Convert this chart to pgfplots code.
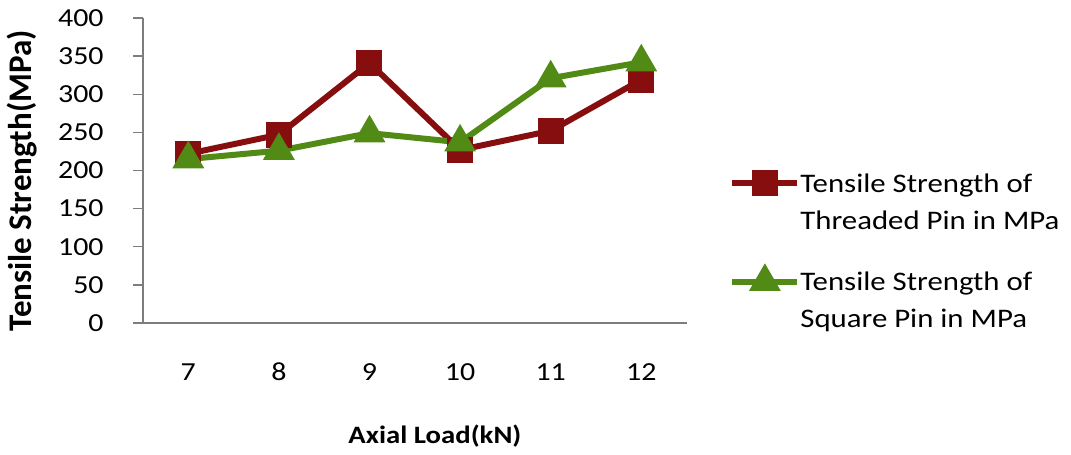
\documentclass[border=0pt]{standalone}
\usepackage{fontspec}
\setmainfont{Carlito}[FakeStretch=1.15]
\newfontfamily\ylabfont{Carlito}
\usepackage{pgfplots}
\pgfplotsset{compat=1.18}

\definecolor{threadred}{RGB}{135,14,14}
\definecolor{squaregreen}{RGB}{82,138,22}
\definecolor{axisgray}{RGB}{125,125,125}

\begin{document}
\begin{tikzpicture}
% overall frame of the figure
\path[use as bounding box] (-71.5pt,-66pt) rectangle (464pt,161.5pt);
\begin{axis}[
  at={(0pt,0pt)}, anchor=south west,
  scale only axis,
  width=271.8pt, height=152.5pt,
  xmin=6.5, xmax=12.5,
  ymin=0, ymax=400,
  xtick={7,8,9,10,11,12},
  ytick={0,50,...,400},
  axis x line*=bottom,
  axis y line*=left,
  axis line style={axisgray, line width=0.7pt, -},
  every tick/.style={axisgray, line width=0.7pt},
  major tick length=5pt,
  xtick style={draw=none},
  ytick align=outside,
  tick label style={font=\fontsize{13pt}{15pt}\selectfont, inner sep=0pt},
  /pgf/number format/assume math mode=true,
  xticklabel style={anchor=base, yshift=-28.5pt},
  yticklabel style={anchor=east, xshift=-14.5pt},
  xlabel={\textbf{Axial Load(kN)}},
  ylabel={\ylabfont\textbf{Tensile Strength(MPa)}},
  xlabel style={at={(axis description cs:0.537,0)}, anchor=base,
    yshift=-60pt, inner sep=0pt, font=\fontsize{12.5pt}{14pt}\selectfont},
  ylabel style={at={(axis description cs:0,0.466)}, anchor=center,
    yshift=60.5pt, inner sep=0pt, font=\fontsize{16.5pt}{18pt}\selectfont},
  legend style={
    at={(axis description cs:1.078,0.492)}, anchor=north west,
    draw=none, fill=none, inner sep=0pt,
    column sep=0pt, row sep=18.5pt,
    font=\fontsize{13.4pt}{18.5pt}\selectfont,
    nodes={inner sep=0pt, anchor=base west, align=left},
  },
  legend image code/.code={
    \draw[#1, mark repeat=2, mark phase=2]
      plot coordinates {(0pt,23pt) (16.25pt,23pt) (32.5pt,23pt)};
  },
]
\addplot[threadred, line width=3pt, mark=square*, mark size=5pt,
  mark options={solid, fill=threadred}]
  coordinates {(7,222) (8,247) (9,341) (10,227) (11,252) (12,319)};
\addlegendentry{Tensile Strength of\\Threaded Pin in MPa}
\addplot[squaregreen, line width=3pt, mark=triangle*, mark size=6.2pt,
  mark options={solid, fill=squaregreen}]
  coordinates {(7,215) (8,226) (9,249) (10,237) (11,321) (12,342)};
\addlegendentry{Tensile Strength of\\Square Pin in MPa}
\end{axis}
\end{tikzpicture}
\end{document}
